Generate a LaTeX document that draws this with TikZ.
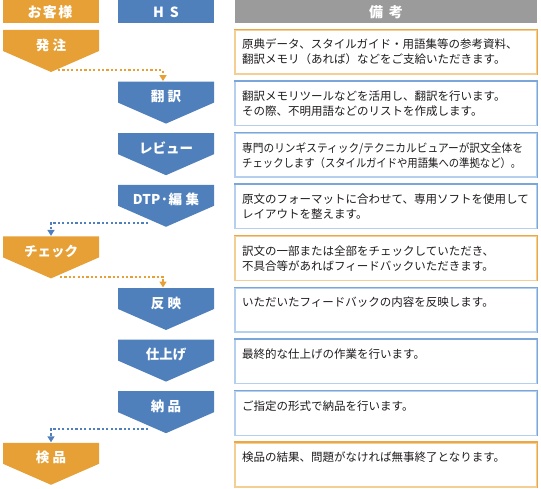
\documentclass[tikz,border=0pt]{standalone}
\usepackage{fontspec}
\usepackage{graphicx}
\setmainfont{Noto Sans CJK JP}
\newfontfamily\cjk{Noto Sans CJK JP}
\usetikzlibrary{arrows.meta,calc}
\definecolor{hsorange}{HTML}{E6A036}
\definecolor{hsblue}{HTML}{4F80BC}
\definecolor{hsgray}{HTML}{9B9B9B}
\definecolor{ordark}{HTML}{EBA848}
\definecolor{orlight}{HTML}{F3CE95}
\definecolor{bldark}{HTML}{7AA6DA}
\definecolor{bllight}{HTML}{B5D0EE}
\definecolor{notetext}{HTML}{1E1B1C}
\tikzset{
  steplabel/.style={text=white,font=\cjk\bfseries\fontsize{13.5}{14}\selectfont,inner sep=0pt},
  headlabel/.style={text=white,font=\cjk\bfseries\fontsize{14}{15}\selectfont,inner sep=0pt},
  notebox/.style={draw=#1,line width=1.4pt,minimum width=302pt,minimum height=44pt,inner sep=0pt},
  notetxt/.style={text=notetext,font=\cjk\fontsize{11.5}{15}\selectfont,align=left,inner sep=0pt,anchor=north west},
  oflow/.style={hsorange,line width=1.8pt,dash pattern=on 2.2pt off 2.2pt,-{Triangle[width=7pt,length=6pt]}},
  bflow/.style={hsblue,line width=1.8pt,dash pattern=on 2.2pt off 2.2pt,-{Triangle[width=7pt,length=6pt]}},
}
\newcommand\flowstep[5]{%
  \fill[#4] (#2-48,#3) -- (#2+48,#3) -- (#2+48,#3+21) -- (#2,#3+42) -- (#2-48,#3+21) -- cycle;
  \node[steplabel] (#1) at (#2,#3+15) {#5};
  \coordinate (#1-tip) at (#2,#3+42);
  \coordinate (#1-top) at (#2,#3);}
\newcommand\noterow[5]{%
  \node[notebox=#3] (#1) at (386,#2+22) {};
  \draw[#4,line width=1.4pt] (#1.north west) -- (#1.north east) -- (#1.south east);
  \node[notetxt] (#1-t) at (242,#2+9) {#5};}
\begin{document}
\begin{tikzpicture}[x=1pt,y=-1pt]
\useasboundingbox (0,0) rectangle (541,489);
% headers
\fill[hsorange] (3,0) rectangle (99,23);
\node[headlabel] (hcust) at (50,12) {お\hspace{1.5pt}客\hspace{1.5pt}様};
\fill[hsblue] (118,0) rectangle (214,23);
\node[headlabel] (hhs) at (166,12) {H\hspace{6pt}S};
\fill[hsgray] (235,0) rectangle (537,23);
\node[headlabel] (hnote) at (386,12) {備\hspace{6pt}考};
% steps
\flowstep{hatchu}{51}{30}{hsorange}{発\hspace{3.5pt}注}
\flowstep{honyaku}{166}{81.6}{hsblue}{翻\hspace{3.5pt}訳}
\flowstep{review}{166}{133.2}{hsblue}{レビュー}
\flowstep{dtp}{166}{184.8}{hsblue}{DTP·編\hspace{3.5pt}集}
\flowstep{check}{51}{236.4}{hsorange}{チェック}
\flowstep{hanei}{166}{288}{hsblue}{反\hspace{3.5pt}映}
\flowstep{shiage}{166}{339.6}{hsblue}{仕上げ}
\flowstep{nohin}{166}{391.2}{hsblue}{納\hspace{3.5pt}品}
\flowstep{kenpin}{51}{442.8}{hsorange}{検\hspace{3.5pt}品}
% notes
\noterow{n1}{30}{orlight}{ordark}{原典データ、スタイルガイド・用語集等の参考資料、\\翻訳メモリ（あれば）などをご支給いただきます。}
\noterow{n2}{81.6}{bllight}{bldark}{翻訳メモリツールなどを活用し、翻訳を行います。\\その際、不明用語などのリストを作成します。}
\noterow{n3}{133.2}{bllight}{bldark}{\scalebox{0.93}[1]{専門のリンギスティック/テクニカルビュアーが訳文全体を}\\\scalebox{0.9}[1]{チェックします（スタイルガイドや用語集への準拠など）。}}
\noterow{n4}{184.8}{bllight}{bldark}{原文のフォーマットに合わせて、専用ソフトを使用して\\レイアウトを整えます。}
\noterow{n5}{236.4}{orlight}{ordark}{訳文の一部または全部をチェックしていただき、\\不具合等があればフィードバックいただきます。}
\noterow{n6}{288}{bllight}{bldark}{いただいたフィードバックの内容を反映します。}
\noterow{n7}{339.6}{bllight}{bldark}{最終的な仕上げの作業を行います。}
\noterow{n8}{391.2}{bllight}{bldark}{ご指定の形式で納品を行います。}
\noterow{n9}{442.8}{orlight}{ordark}{検品の結果、問題がなければ無事終了となります。}
% connectors
\draw[oflow] ($(hatchu-tip)+(7,-2)$) -| ($(honyaku-top)+(-3,-0.5)$);
\draw[bflow] ($(dtp-tip)+(-18,-4)$) -| ($(check-top)+(0,-0.5)$);
\draw[oflow] ($(check-tip)+(9,-1.5)$) -| ($(hanei-top)+(-3,-0.5)$);
\draw[bflow] ($(nohin-tip)+(-18,-4)$) -| ($(kenpin-top)+(0,-0.5)$);
\end{tikzpicture}
\end{document}
